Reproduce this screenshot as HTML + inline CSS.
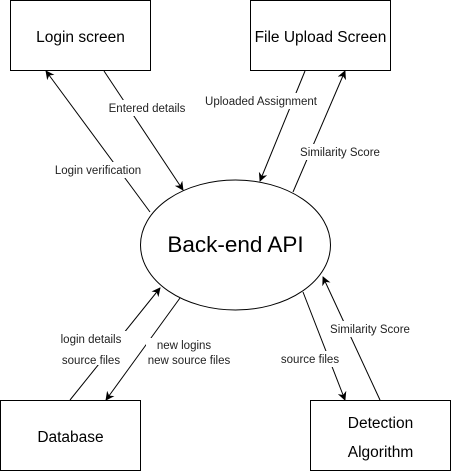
<!DOCTYPE html>
<html><head><style>html,body{margin:0;padding:0;background:#fff;}svg{display:block;}</style></head>
<body>
<svg width="451" height="471" viewBox="0 0 451 471" xmlns="http://www.w3.org/2000/svg" font-family="Liberation Sans, Arial, sans-serif">
<defs>
<marker id="a" viewBox="0 0 10 10" refX="9" refY="5" markerWidth="9" markerHeight="9" orient="auto" markerUnits="userSpaceOnUse">
<path d="M0,0 L10,5 L0,10 L3,5 Z" fill="#000"/>
</marker>
</defs>
<g fill="#fff" stroke="#000" stroke-width="1">
<rect x="10.5" y="0.5" width="140" height="70"/>
<rect x="250.5" y="0.5" width="140" height="70"/>
<rect x="0.5" y="400.5" width="140" height="70"/>
<rect x="310.5" y="400.5" width="140" height="70"/>
<ellipse cx="235.5" cy="245" rx="95" ry="65"/>
</g>
<g stroke="#000" stroke-width="1" fill="none" marker-end="url(#a)">
<line x1="150" y1="212" x2="46" y2="71"/>
<line x1="104" y1="71" x2="183" y2="190"/>
<line x1="305" y1="71" x2="260" y2="181"/>
<line x1="293" y1="192" x2="345" y2="71"/>
<line x1="70" y1="400" x2="160" y2="288"/>
<line x1="180" y1="298" x2="106" y2="400"/>
<line x1="303" y1="292" x2="345" y2="400"/>
<line x1="380" y1="400" x2="323" y2="277"/>
</g>
<g font-size="11.5" text-anchor="middle" fill="#222">
<rect x="50" y="162" width="96" height="16" fill="#fff"/>
<text x="98" y="174">Login verification</text>
<rect x="104" y="100" width="86" height="16" fill="#fff"/>
<text x="147" y="112">Entered details</text>
<rect x="200" y="93" width="122" height="16" fill="#fff"/>
<text x="261" y="105">Uploaded Assignment</text>
<rect x="296" y="144" width="88" height="16" fill="#fff"/>
<text x="340" y="156">Similarity Score</text>
<rect x="56" y="331" width="70" height="34" fill="#fff"/>
<text x="91" y="343">login details</text>
<text x="91" y="364">source files</text>
<rect x="146" y="338" width="88" height="30" fill="#fff"/>
<text x="184" y="349">new logins</text>
<text x="189" y="364">new source files</text>
<rect x="278" y="351" width="66" height="16" fill="#fff"/>
<text x="310" y="363">source files</text>
<rect x="326" y="321" width="88" height="16" fill="#fff"/>
<text x="370" y="333">Similarity Score</text>
</g>
<g font-size="15.5" text-anchor="middle" fill="#000">
<text x="80.5" y="42">Login screen</text>
<text x="320.5" y="42">File Upload Screen</text>
<text x="70.5" y="442">Database</text>
<text x="380.5" y="428">Detection</text>
<text x="380.5" y="457">Algorithm</text>
</g>
<text x="235.5" y="252" font-size="22.5" text-anchor="middle" fill="#000">Back-end API</text>
</svg>
</body></html>
